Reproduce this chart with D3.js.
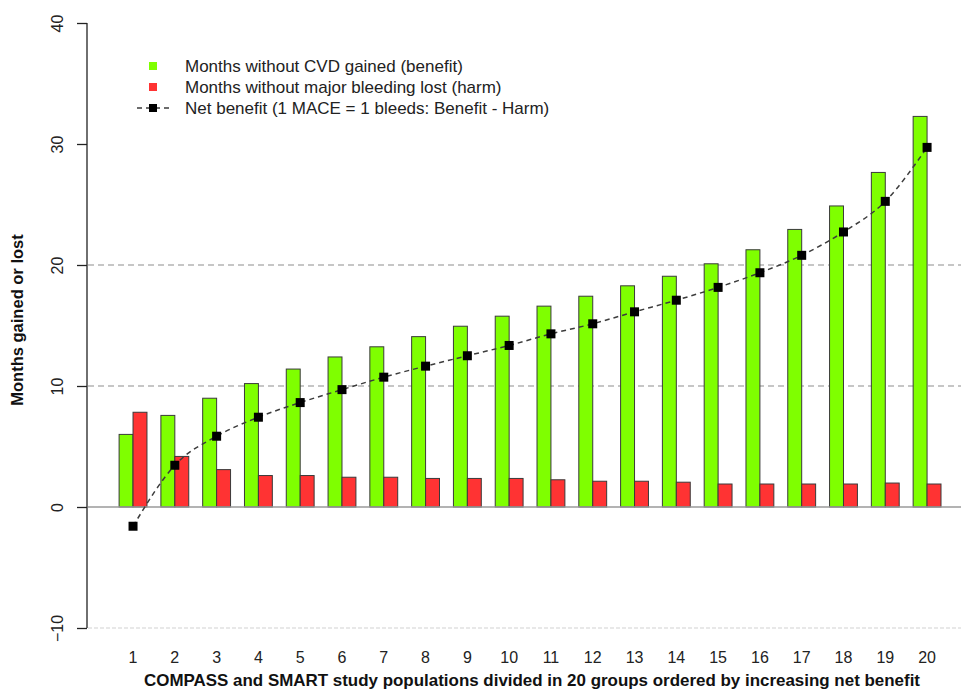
<!DOCTYPE html>
<html>
<head>
<meta charset="utf-8">
<script src="https://cdn.jsdelivr.net/npm/d3@7"></script>
<style>
  html, body { margin: 0; padding: 0; background: #fff; }
  svg { display: block; font-family: "Liberation Sans", Arial, Helvetica, sans-serif; }
</style>
</head>
<body>
<svg id="chart" width="961" height="689"></svg>
<script>
// Groups 1..20 ordered by increasing net benefit
const groups = d3.range(1, 21).map(String);
// Months without CVD gained (benefit)
const benefit = [6.0, 7.57, 8.99, 10.2, 11.4, 12.4, 13.24, 14.08, 14.94, 15.77,
                 16.6, 17.42, 18.28, 19.07, 20.1, 21.26, 22.94, 24.88, 27.65, 32.28];
// Months without major bleeding lost (harm)
const harm = [7.83, 4.18, 3.09, 2.6, 2.6, 2.46, 2.46, 2.36, 2.36, 2.36,
              2.25, 2.13, 2.13, 2.05, 1.9, 1.9, 1.9, 1.9, 1.98, 1.9];
// Net benefit (1 MACE = 1 bleeds: Benefit - Harm)
const netBenefit = [-1.59, 3.45, 5.85, 7.42, 8.63, 9.70, 10.73, 11.64, 12.50, 13.35,
                    14.31, 15.14, 16.13, 17.09, 18.15, 19.36, 20.80, 22.73, 25.26, 29.72];
const yTicks = [-10, 0, 10, 20, 30, 40];
const gridValues = [10, 20];
const legendLabels = [
  "Months without CVD gained (benefit)",
  "Months without major bleeding lost (harm)",
  "Net benefit (1 MACE = 1 bleeds: Benefit - Harm)"
];

const GREEN = "#7fff00", RED = "#ff3333";
const svg = d3.select("#chart");

const x = d3.scaleBand().domain(groups).range([119.1, 941.0])
  .paddingInner(1 / 3).paddingOuter(0);
const sub = d3.scaleBand().domain(["benefit", "harm"]).range([0, x.bandwidth()]);
const y = d3.scaleLinear().domain([-10, 40]).range([628, 23]);
const cx = g => x(g) + x.bandwidth() / 2;

// Reference lines (behind the bars)
const xLeft = 88, xRight = 961;
svg.append("g").selectAll("line").data(gridValues).join("line")
  .attr("x1", xLeft).attr("x2", xRight)
  .attr("y1", d => y(d)).attr("y2", d => y(d))
  .attr("stroke", "#b4b4b4").attr("stroke-width", 1.6).attr("stroke-dasharray", "6,4");
svg.append("line")
  .attr("x1", xLeft).attr("x2", xRight).attr("y1", y(-10)).attr("y2", y(-10))
  .attr("stroke", "#d2d2d2").attr("stroke-width", 1.2).attr("stroke-dasharray", "4,2");

// Bars
const bars = svg.append("g");
groups.forEach((g, i) => {
  const vals = [["benefit", benefit[i], GREEN], ["harm", harm[i], RED]];
  vals.forEach(([k, v, c]) => {
    bars.append("rect")
      .attr("x", x(g) + sub(k))
      .attr("y", y(Math.max(0, v)))
      .attr("width", sub.bandwidth())
      .attr("height", Math.abs(y(v) - y(0)))
      .attr("fill", c).attr("stroke", "#3a3a3a").attr("stroke-width", 1);
  });
});

// Zero line
svg.append("line")
  .attr("x1", xLeft).attr("x2", xRight).attr("y1", y(0)).attr("y2", y(0))
  .attr("stroke", "#9a9a9a").attr("stroke-width", 1.6);

// Net benefit curve and markers
const netPts = groups.map((g, i) => [cx(g), y(netBenefit[i])]);
svg.append("path")
  .attr("d", d3.line().curve(d3.curveMonotoneX)(netPts))
  .attr("fill", "none").attr("stroke", "#3c3c3c").attr("stroke-width", 1.5)
  .attr("stroke-dasharray", "5,4");
svg.append("g").selectAll("rect").data(netPts).join("rect")
  .attr("x", d => d[0] - 4.5).attr("y", d => d[1] - 4.5)
  .attr("width", 9).attr("height", 9).attr("fill", "#000");

// Y axis
const yAxis = svg.append("g").attr("transform", "translate(87,0)")
  .call(d3.axisLeft(y).tickValues(yTicks).tickSize(10).tickPadding(0).tickFormat(d3.format("d")));
yAxis.select(".domain").attr("stroke", "#222").attr("stroke-width", 1.3)
  .attr("d", `M0,${y(-10)}V${y(40)}`);
yAxis.selectAll(".tick line").attr("stroke", "#222").attr("stroke-width", 1.3);
yAxis.selectAll(".tick text")
  .attr("x", null).attr("dy", null)
  .attr("transform", "translate(-30,0) rotate(-90)")
  .attr("text-anchor", "middle").attr("dominant-baseline", "central")
  .attr("font-size", 16).attr("fill", "#222")
  .attr("font-family", "'Liberation Sans', Arial, sans-serif");

// X tick labels (no axis line)
const xAxis = svg.append("g").attr("transform", "translate(0,652)")
  .call(d3.axisBottom(x).tickSize(0).tickPadding(0));
xAxis.select(".domain").remove();
xAxis.selectAll(".tick text").attr("y", 0).attr("dy", "0.71em")
  .attr("font-size", 16).attr("fill", "#222")
  .attr("font-family", "'Liberation Sans', Arial, sans-serif");

// Axis titles
svg.append("text")
  .attr("x", 532).attr("y", 686).attr("text-anchor", "middle")
  .attr("font-size", 16.5).attr("font-weight", "bold").attr("fill", "#111")
  .attr("textLength", 776).attr("lengthAdjust", "spacingAndGlyphs")
  .text("COMPASS and SMART study populations divided in 20 groups ordered by increasing net benefit");
svg.append("text")
  .attr("transform", "translate(23,320) rotate(-90)").attr("text-anchor", "middle")
  .attr("font-size", 16.5).attr("font-weight", "bold").attr("fill", "#111")
  .text("Months gained or lost");

// Legend
const legend = svg.append("g");
const rowY = [66, 87, 108];
legend.append("rect").attr("x", 149).attr("y", rowY[0] - 4).attr("width", 8).attr("height", 8).attr("fill", GREEN);
legend.append("rect").attr("x", 149).attr("y", rowY[1] - 4).attr("width", 8).attr("height", 8).attr("fill", RED);
legend.append("line").attr("x1", 137).attr("x2", 169).attr("y1", rowY[2]).attr("y2", rowY[2])
  .attr("stroke", "#3c3c3c").attr("stroke-width", 1.5).attr("stroke-dasharray", "5,4");
legend.append("rect").attr("x", 149).attr("y", rowY[2] - 4).attr("width", 8).attr("height", 8).attr("fill", "#000");
legend.selectAll("text.lab").data(legendLabels).join("text").attr("class", "lab")
  .attr("x", 185).attr("y", (d, i) => rowY[i]).attr("dominant-baseline", "central")
  .attr("font-size", 17).attr("fill", "#222")
  .text(d => d);
</script>
</body>
</html>
